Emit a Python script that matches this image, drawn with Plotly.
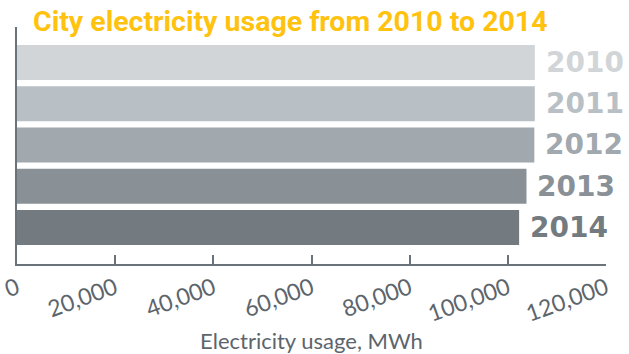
import plotly.graph_objects as go

years = ["2010", "2011", "2012", "2013", "2014"]
usage = [105500, 105500, 105400, 103800, 102300]
bar_colors = ["#D1D5D8", "#B9C0C5", "#A1A8AE", "#899197", "#737B81"]
tick_vals = [0, 20000, 40000, 60000, 80000, 100000, 120000]
tick_text = ["0", "20,000", "40,000", "60,000", "80,000", "100,000", "120,000"]

axis_col = "#6B737A"

fig = go.Figure()
fig.add_trace(go.Bar(
    y=years, x=usage, orientation="h",
    marker=dict(color=bar_colors, line=dict(width=0)),
    width=0.85, hoverinfo="x+y",
))

for i, (yr, v, c) in enumerate(zip(years, usage, bar_colors)):
    fig.add_annotation(x=v, y=i, text="<b>" + yr + "</b>", showarrow=False, xanchor="left",
                       xshift=9, yshift=0,
                       font=dict(family="DejaVu Sans", size=28, color=c))

fig.update_layout(
    width=629, height=354,
    margin=dict(l=17, r=23, t=27, b=90),
    paper_bgcolor="white", plot_bgcolor="white",
    showlegend=False,
    title=dict(text="<b>City electricity usage from 2010 to 2014</b>", x=33 / 629, xanchor="left",
               xref="container", y=1 - 21 / 354, yanchor="middle", yref="container",
               font=dict(family="Roboto", size=28.5, color="#FFC20E")),
    xaxis=dict(range=[0, 120000], tickvals=tick_vals, ticktext=tick_text, automargin=False,
               tickangle=-20, ticks="inside", ticklen=9, tickwidth=1.5, tickcolor=axis_col,
               showline=True, linecolor=axis_col, linewidth=2, showgrid=False, zeroline=False,
               tickfont=dict(family="Lato", size=23, color="#5D656C"),
               title=dict(text="Electricity usage, MWh",
                          font=dict(family="Lato", size=22, color="#5D656C"), standoff=10)),
    yaxis=dict(type="category", range=[4.885, -0.86], showticklabels=False, ticks="",
               automargin=False,
               showline=True, linecolor=axis_col, linewidth=2, showgrid=False, zeroline=False),
)

fig.write_html("out.html")
